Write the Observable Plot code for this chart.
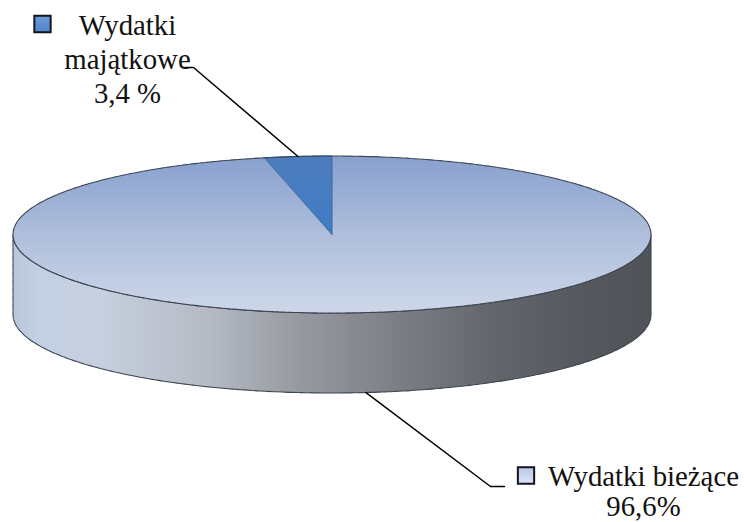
<!DOCTYPE html>
<html>
<head>
<meta charset="utf-8">
<script src="https://cdn.jsdelivr.net/npm/d3@7"></script>
<script src="https://cdn.jsdelivr.net/npm/@observablehq/plot@0.6"></script>
<style>html,body{margin:0;padding:0;background:#fff}svg{display:block}</style>
</head>
<body>
<div id="chart"></div>
<script>
const categories = ["Wydatki bieżące", "Wydatki majątkowe"];
const values = [96.6, 3.4];
const valueLabels = ["96,6%", "3,4 %"];

// Layout of the drawn disc, in the pixel units of the x and y scales
const disc = {cx: 331.5, cy: 234, rx: 319, ry: 78.5, depth: 80};
const font = "Liberation Serif";
const fontSize = 28.8;

const total = d3.sum(values);
const pt = (deg, drop = 0) => {
  const a = deg * Math.PI / 180;
  return {x: disc.cx + disc.rx * Math.sin(a), y: disc.cy - disc.ry * Math.cos(a) + drop};
};
const arc = (a0, a1, drop = 0) => {
  const n = Math.max(2, Math.ceil(Math.abs(a1 - a0) / 1.5));
  return d3.range(n + 1).map(i => pt(a0 + (a1 - a0) * i / n, drop));
};

// Slice angles come from the values
let acc = 0;
const slices = values.map((v, i) => {
  const a0 = acc / total * 360; acc += v;
  const a1 = acc / total * 360;
  return {name: categories[i], a0, a1, mid: (a0 + a1) / 2};
});
const sector = s => [{x: disc.cx, y: disc.cy}, ...arc(s.a0, s.a1), {x: disc.cx, y: disc.cy}];
const big = slices[0], small = slices[1];

const sidePoly = [...arc(90, 270), ...arc(270, 90, disc.depth), pt(90)];
const leaderSmall = [{x: 183, y: 67}, {x: 193, y: 67}, pt(small.mid)];
const leaderBig = [pt(big.mid, disc.depth), {x: 490, y: 486}, {x: 504, y: 486}];

const labelSmall = [{text: "Wydatki\nmajątkowe\n" + valueLabels[1], x: 127, y: 102}];
const labelBig = [{text: categories[0] + "\n" + valueLabels[0], x: 643, y: 515.5}];
const swatches = [
  {x: 42, y: 23.5, fill: "url(#swSmall)"},
  {x: 525.5, y: 475, fill: "url(#swBig)"}
];

function gradient(defs, id, x2, y2, stops) {
  const g = defs.append("linearGradient").attr("id", id)
    .attr("x1", 0).attr("y1", 0).attr("x2", x2).attr("y2", y2);
  stops.forEach(([o, c]) => g.append("stop").attr("offset", o).attr("stop-color", c));
}
const defsMark = () => {
  const defs = d3.create("svg:defs");
  gradient(defs, "topFill", 0, 1, [[0, "#88a0ce"], [0.5, "#aebedb"], [1, "#ced7e9"]]);
  gradient(defs, "smallFill", 0, 1, [[0, "#4d7cbd"], [1, "#3f7cc6"]]);
  gradient(defs, "sideFill", 1, 0, [
    [0, "#b9c6da"], [0.04, "#c3cfe3"], [0.14, "#c6cfdf"], [0.3, "#b6bbc5"],
    [0.45, "#96999f"], [0.6, "#7c7f84"], [0.75, "#63666b"], [0.9, "#54575c"], [1, "#505358"]
  ]);
  gradient(defs, "swSmall", 0, 1, [[0, "#6d9ad6"], [1, "#4f86cc"]]);
  gradient(defs, "swBig", 0, 1, [[0, "#b8c8e6"], [1, "#dbe4f4"]]);
  return defs.node();
};

const rim = "#3a4352";
const chart = Plot.plot({
  width: 744, height: 522,
  margin: 0,
  x: {domain: [0, 744], range: [0, 744], axis: null},
  y: {domain: [0, 522], range: [0, 522], axis: null},
  marks: [
    defsMark,
    Plot.line(sidePoly, {x: "x", y: "y", fill: "url(#sideFill)", stroke: rim, strokeWidth: 1.1, strokeDasharray: "7 1"}),
    Plot.line(sector(big), {x: "x", y: "y", fill: "url(#topFill)", stroke: "none"}),
    Plot.line(sector(small), {x: "x", y: "y", fill: "url(#smallFill)", stroke: "#3b6aa3", strokeWidth: 1}),
    Plot.line(arc(0, 360), {x: "x", y: "y", stroke: rim, strokeWidth: 1.1, strokeDasharray: "7 1"}),
    Plot.line(leaderSmall, {x: "x", y: "y", stroke: "#000", strokeWidth: 1.5}),
    Plot.line(leaderBig, {x: "x", y: "y", stroke: "#000", strokeWidth: 1.5}),
    Plot.dot(swatches, {x: "x", y: "y", symbol: "square", r: 9.2, fill: d => d.fill, stroke: "#15151f", strokeWidth: 2}),
    Plot.text(labelSmall, {x: "x", y: "y", text: "text", fontFamily: font, fontSize, lineHeight: 1.17, lineAnchor: "bottom", textAnchor: "middle", fill: "#111"}),
    Plot.text(labelBig, {x: "x", y: "y", text: "text", fontFamily: font, fontSize, lineHeight: 1.03, lineAnchor: "bottom", textAnchor: "middle", fill: "#111"})
  ]
});
document.getElementById("chart").append(chart);
</script>
</body>
</html>
